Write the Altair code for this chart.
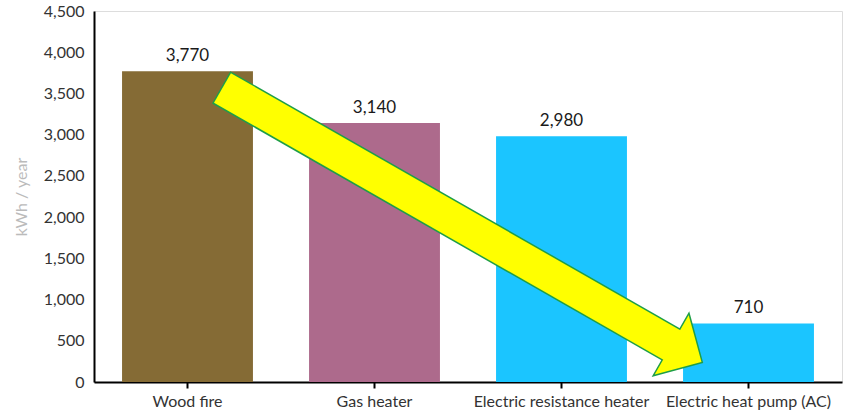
import altair as alt
import pandas as pd

# Annual energy use by heating method
categories = ["Wood fire", "Gas heater", "Electric resistance heater", "Electric heat pump (AC)"]
kwh_per_year = [3770, 3140, 2980, 710]
bar_colors = ["#856B35", "#AD6A8C", "#1BC5FF", "#1BC5FF"]

# Arrow annotation in data units (x: band index position, y: kWh/year)
arrow_outline_x = [0.680, 3.086]
arrow_outline_y = [3574, 455]
arrow_fill_x = [0.687, 3.095]
arrow_fill_y = [3566, 443]
arrow_head_x = [3.086]
arrow_head_y = [455]

W, H = 748, 371
bars_df = pd.DataFrame({"method": categories, "kwh": kwh_per_year})

x_band = alt.X(
    "method:N",
    sort=categories,
    scale=alt.Scale(paddingInner=0.3, paddingOuter=0.15),
    axis=alt.Axis(
        title=None, labelAngle=0, labelFont="Lato", labelFontSize=16,
        labelColor="#333333", domainColor="#000000", domainWidth=2,
        tickColor="#000000", tickWidth=2, tickSize=6, labelPadding=5,
    ),
)
y_q = alt.Y(
    "kwh:Q",
    scale=alt.Scale(domain=[0, 4500], nice=False),
    axis=alt.Axis(
        title="kWh / year", titleColor="#BBBBBB", titleFont="Lato",
        titleFontSize=16, titleFontWeight="normal", titlePadding=14,
        format=",d", values=list(range(0, 4501, 500)), grid=False,
        ticks=False, labelFont="Lato", labelFontSize=16, labelColor="#333333",
        labelPadding=10, domainColor="#000000", domainWidth=2,
    ),
)

bars = alt.Chart(bars_df).mark_bar().encode(
    x=x_band,
    y=y_q,
    color=alt.Color("method:N", sort=categories,
                    scale=alt.Scale(domain=categories, range=bar_colors), legend=None),
)
labels = alt.Chart(bars_df).mark_text(
    baseline="bottom", dy=-6, font="Lato", fontSize=17, color="#1A1A1A"
).encode(
    x=alt.X("method:N", sort=categories),
    y="kwh:Q",
    text=alt.Text("kwh:Q", format=",d"),
)
base = alt.layer(bars, labels)

xq = alt.X("x:Q", scale=alt.Scale(domain=[0, 4], nice=False, zero=False), axis=None)
yq = alt.Y("y:Q", scale=alt.Scale(domain=[0, 4500], nice=False), axis=None)

outline = alt.Chart(pd.DataFrame({"x": arrow_outline_x, "y": arrow_outline_y})).mark_line(
    color="#1E9E48", strokeWidth=37, strokeCap="butt"
).encode(x=xq, y=yq)
head = alt.Chart(pd.DataFrame({"x": arrow_head_x, "y": arrow_head_y})).mark_point(
    shape="M0,-1L1,0L0,1Z", filled=True, fill="#FFFF00", stroke="#1E9E48",
    strokeWidth=1.5, size=5184, angle=29.8, opacity=1,
).encode(x=xq, y=yq)
fill = alt.Chart(pd.DataFrame({"x": arrow_fill_x, "y": arrow_fill_y})).mark_line(
    color="#FFFF00", strokeWidth=34, strokeCap="butt"
).encode(x=xq, y=yq)

arrow = alt.layer(outline, head, fill)

chart = alt.layer(base, arrow).resolve_scale(
    x="independent", y="independent"
).resolve_axis(x="independent", y="independent").properties(
    width=W, height=H,
    autosize=alt.AutoSizeParams(type="none"),
    padding={"left": 94, "top": 11, "right": 4, "bottom": 37},
).configure_view(strokeWidth=0, stroke="transparent").configure(background="white")

chart.save("out.html", embed_options={"renderer": "svg", "actions": False})
